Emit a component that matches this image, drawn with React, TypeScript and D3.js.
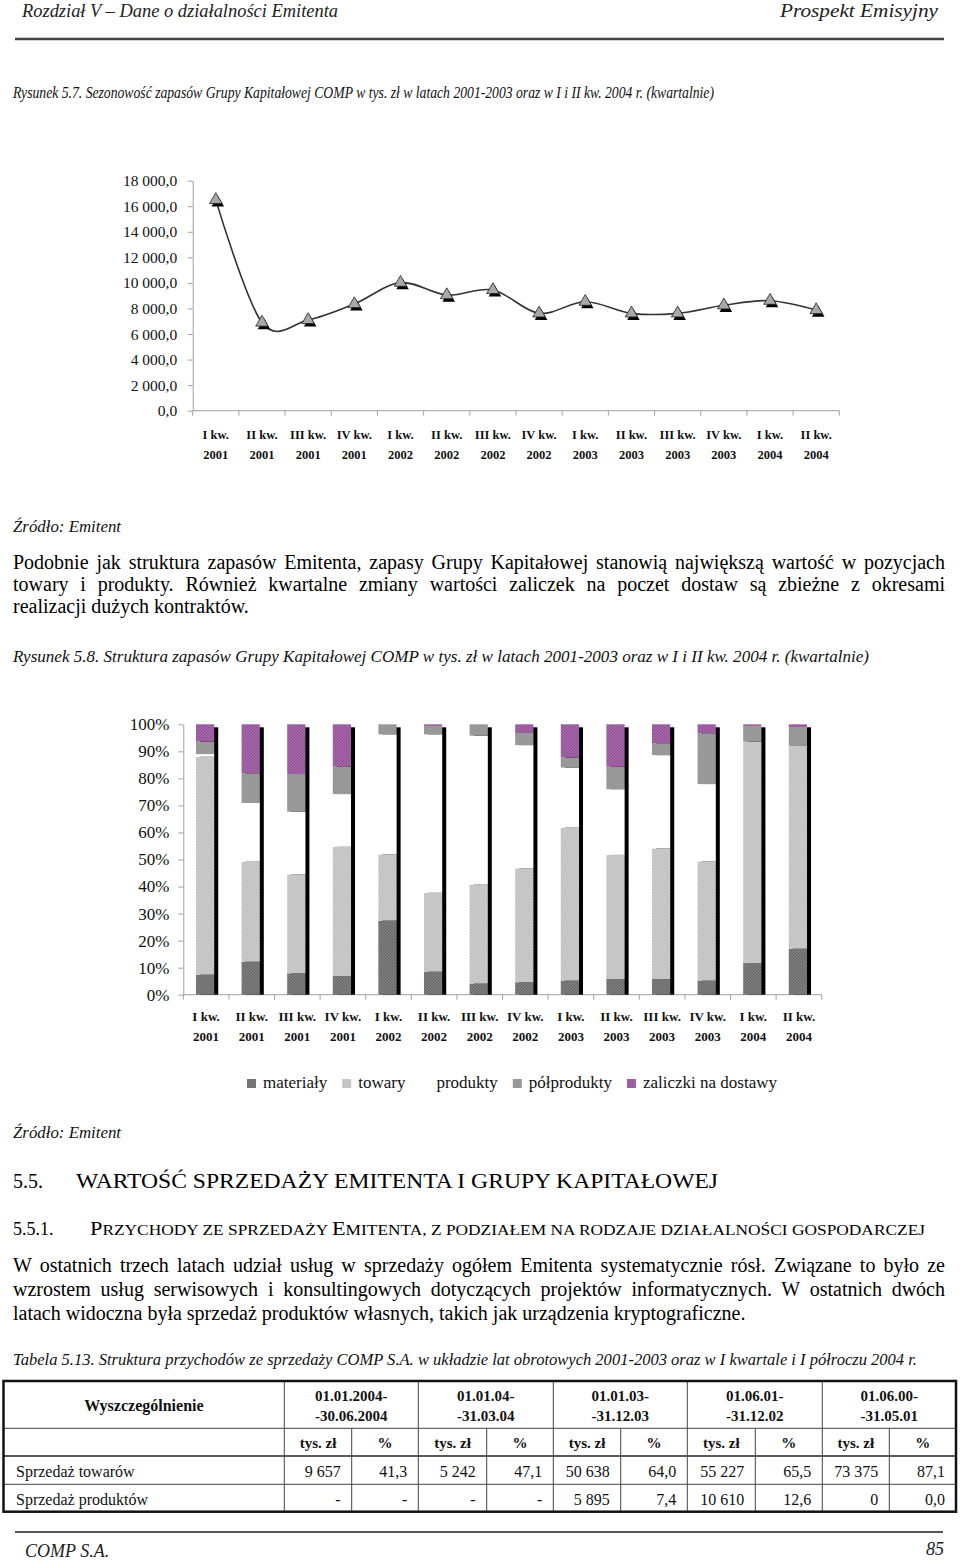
import React, { useEffect, useRef } from "react";
import * as d3 from "d3";

// ---------- DATA ----------
const quarterLabels = ["I kw.", "II kw.", "III kw.", "IV kw.", "I kw.", "II kw.", "III kw.", "IV kw.", "I kw.", "II kw.", "III kw.", "IV kw.", "I kw.", "II kw."];
const yearLabels = ["2001", "2001", "2001", "2001", "2002", "2002", "2002", "2002", "2003", "2003", "2003", "2003", "2004", "2004"];

// Rysunek 5.7 – zapasy, tys. zł
const inventoryValues = [16500, 6900, 7100, 8350, 10020, 9050, 9450, 7620, 8530, 7620, 7620, 8250, 8610, 7880];
const lineYTicks = [0, 2000, 4000, 6000, 8000, 10000, 12000, 14000, 16000, 18000];

// Rysunek 5.8 – struktura zapasów (%)
const seriesKeys = ["materialy", "towary", "produkty", "polprodukty", "zaliczki"];
const seriesNames = ["materiały", "towary", "produkty", "półprodukty", "zaliczki na dostawy"];
const materialy = [7.4, 12.2, 7.9, 6.9, 27.4, 8.5, 4.1, 4.6, 5.2, 5.8, 5.8, 5.2, 11.7, 17.0];
const towary = [80.6, 37.0, 36.6, 47.8, 24.5, 29.2, 36.6, 42.1, 56.6, 45.9, 48.3, 44.1, 81.9, 75.0];
const produkty = [1.0, 21.7, 23.2, 19.5, 44.4, 58.6, 55.1, 45.6, 22.2, 24.3, 34.5, 28.6, 0.0, 0.0];
const polprodukty = [4.6, 11.0, 13.9, 10.1, 3.7, 3.1, 4.2, 4.5, 3.7, 8.3, 4.4, 18.8, 5.8, 7.0];
const zaliczki = [6.4, 18.1, 18.4, 15.7, 0.0, 0.6, 0.0, 3.2, 12.3, 15.7, 7.0, 3.3, 0.6, 1.0];
const barYTicks = [0, 10, 20, 30, 40, 50, 60, 70, 80, 90, 100];

// Tabela 5.13
const tablePeriods = [["01.01.2004-", "-30.06.2004"], ["01.01.04-", "-31.03.04"], ["01.01.03-", "-31.12.03"], ["01.06.01-", "-31.12.02"], ["01.06.00-", "-31.05.01"]];
const tableUnits = ["tys. zł", "%"];
const tableRowLabels = ["Sprzedaż towarów", "Sprzedaż produktów"];
const rowTowary = ["9 657", "41,3", "5 242", "47,1", "50 638", "64,0", "55 227", "65,5", "73 375", "87,1"];
const rowProdukty = ["-", "-", "-", "-", "5 895", "7,4", "10 610", "12,6", "0", "0,0"];

const para1 = [
  "Podobnie jak struktura zapasów Emitenta, zapasy Grupy Kapitałowej stanowią największą wartość w pozycjach",
  "towary i produkty. Również kwartalne zmiany wartości zaliczek na poczet dostaw są zbieżne z okresami",
  "realizacji dużych kontraktów.",
];
const para2 = [
  "W ostatnich trzech latach udział usług w sprzedaży ogółem Emitenta systematycznie rósł. Związane to było ze",
  "wzrostem usług serwisowych i konsultingowych dotyczących projektów informatycznych. W ostatnich dwóch",
  "latach widoczna była sprzedaż produktów własnych, takich jak urządzenia kryptograficzne.",
];

const SERIF = "'Liberation Serif', 'Times New Roman', Times, serif";

export default function App() {
  const ref = useRef<SVGSVGElement | null>(null);

  useEffect(() => {
    const svg = d3.select(ref.current as SVGSVGElement);
    svg.selectAll("*").remove();
    svg.append("rect").attr("width", 960).attr("height", 1562).attr("fill", "#fff");

    const txt = (g: any, x: number, y: number, s: string, o: any = {}) => {
      const t = g.append("text").attr("x", x).attr("y", y).text(s)
        .attr("font-family", SERIF).attr("font-size", o.size ?? 16)
        .attr("fill", o.fill ?? "#111");
      if (o.italic) t.attr("font-style", "italic");
      if (o.bold) t.attr("font-weight", "bold");
      if (o.anchor) t.attr("text-anchor", o.anchor);
      if (o.width) t.attr("textLength", o.width).attr("lengthAdjust", "spacingAndGlyphs");
      return t;
    };
    const justify = (x: number, y: number, s: string, width: number, size: number) => {
      const t = txt(svg, x, y, s, { size, fill: "#000" });
      const w = (t.node() as SVGTextElement).getComputedTextLength();
      const n = (s.match(/ /g) || []).length;
      if (n > 0) t.attr("word-spacing", (width - w) / n);
    };

    // defs / patterns
    const defs = svg.append("defs");
    const mkPat = (id: string, base: string, line: string) => {
      const p = defs.append("pattern").attr("id", id).attr("patternUnits", "userSpaceOnUse").attr("width", 3).attr("height", 3);
      p.append("rect").attr("width", 3).attr("height", 3).attr("fill", base);
      p.append("path").attr("d", "M0,3 L3,0 M-1,1 L1,-1 M2,4 L4,2").attr("stroke", line).attr("stroke-width", 0.8);
    };
    mkPat("p-mat", "#7d7d7d", "#606060");
    mkPat("p-tow", "#cdcdcd", "#b4b4b4");
    mkPat("p-pol", "#9c9c9c", "#8e8e8e");
    mkPat("p-zal", "#a466a8", "#86468c");
    const fills: Record<string, string> = {
      materialy: "url(#p-mat)", towary: "url(#p-tow)", produkty: "#ffffff", polprodukty: "url(#p-pol)", zaliczki: "url(#p-zal)",
    };

    // ---------- page header ----------
    txt(svg, 22, 17, "Rozdział V – Dane o działalności Emitenta", { italic: true, size: 18, width: 316, fill: "#222" });
    txt(svg, 780, 17, "Prospekt Emisyjny", { italic: true, size: 18, width: 158, fill: "#222" });
    svg.append("line").attr("x1", 15).attr("x2", 944).attr("y1", 39).attr("y2", 39).attr("stroke", "#444").attr("stroke-width", 2.5);

    txt(svg, 13, 98, "Rysunek 5.7. Sezonowość zapasów Grupy Kapitałowej COMP w tys. zł w latach 2001-2003 oraz w I i II kw. 2004 r. (kwartalnie)", { italic: true, size: 16, width: 701 });

    // ---------- line chart ----------
    const idx = d3.range(quarterLabels.length);
    const x1 = d3.scaleBand<number>().domain(idx).range([192.7, 839.3]);
    const y1 = d3.scaleLinear().domain([0, 18000]).range([410.7, 180.7]);
    const loc = d3.formatLocale({ decimal: ",", thousands: "\u00a0", grouping: [3], currency: ["", ""] });
    const fmt = loc.format(",.1f");
    const gL = svg.append("g");
    const axL = gL.append("g").attr("transform", "translate(192.7,0)")
      .call(d3.axisLeft(y1).tickValues(lineYTicks).tickSize(5).tickSizeOuter(0).tickPadding(10.5).tickFormat((d: any) => fmt(d)));
    axL.select(".domain").attr("stroke", "#a0a0a0");
    axL.selectAll(".tick line").attr("stroke", "#a0a0a0");
    axL.selectAll("text").attr("font-family", SERIF).attr("font-size", 15.5).attr("fill", "#111");

    const bw1 = x1.bandwidth();
    gL.append("line").attr("x1", 192.7).attr("x2", 839.3).attr("y1", y1(0)).attr("y2", y1(0)).attr("stroke", "#a0a0a0");
    gL.selectAll(".xt").data(d3.range(quarterLabels.length + 1)).join("line")
      .attr("x1", (i: number) => 192.7 + i * bw1).attr("x2", (i: number) => 192.7 + i * bw1)
      .attr("y1", y1(0)).attr("y2", y1(0) + 5).attr("stroke", "#a0a0a0");
    idx.forEach((i) => {
      const cx = (x1(i) as number) + bw1 / 2;
      txt(gL, cx, 439, quarterLabels[i], { bold: true, size: 12.5, anchor: "middle" });
      txt(gL, cx, 459, yearLabels[i], { bold: true, size: 12.5, anchor: "middle" });
    });

    const line = d3.line<number>()
      .x((d, i) => (x1(i) as number) + bw1 / 2)
      .y((d) => y1(d))
      .curve(d3.curveCatmullRom.alpha(0));
    gL.append("path").attr("d", line(inventoryValues) as string).attr("fill", "none").attr("stroke", "#333").attr("stroke-width", 1.6);
    const tri = d3.symbol().type(d3.symbolTriangle).size(68)();
    inventoryValues.forEach((v, i) => {
      const cx = (x1(i) as number) + bw1 / 2;
      gL.append("path").attr("d", tri as string).attr("transform", `translate(${cx + 2},${y1(v) + 3})`).attr("fill", "#000");
      gL.append("path").attr("d", tri as string).attr("transform", `translate(${cx},${y1(v)})`)
        .attr("fill", "#a8a8a8").attr("stroke", "#222").attr("stroke-width", 0.8);
    });

    txt(svg, 13, 532, "Źródło: Emitent", { italic: true, size: 16.5, width: 108 });

    // ---------- paragraph 1 ----------
    justify(13, 569, para1[0], 932, 20);
    justify(13, 591, para1[1], 932, 20);
    txt(svg, 13, 613, para1[2], { size: 20, fill: "#000" });

    txt(svg, 13, 662, "Rysunek 5.8. Struktura zapasów Grupy Kapitałowej COMP w tys. zł w latach 2001-2003 oraz w I i II kw. 2004 r. (kwartalnie)", { italic: true, size: 16.5, width: 856 });

    // ---------- bar chart ----------
    const x2 = d3.scaleBand<number>().domain(idx).range([183.3, 821.7]);
    const y2 = d3.scaleLinear().domain([0, 100]).range([994.7, 724.3]);
    const gB = svg.append("g");
    const axB = gB.append("g").attr("transform", "translate(183.3,0)")
      .call(d3.axisLeft(y2).tickValues(barYTicks).tickSize(5).tickSizeOuter(0).tickPadding(9).tickFormat((d: any) => `${d}%`));
    axB.select(".domain").attr("stroke", "#a0a0a0");
    axB.selectAll(".tick line").attr("stroke", "#a0a0a0");
    axB.selectAll("text").attr("font-family", SERIF).attr("font-size", 17).attr("fill", "#111");

    const bw2 = x2.bandwidth();
    gB.append("line").attr("x1", 183.3).attr("x2", 821.7).attr("y1", y2(0)).attr("y2", y2(0)).attr("stroke", "#a0a0a0");
    gB.selectAll(".xt").data(d3.range(quarterLabels.length + 1)).join("line")
      .attr("x1", (i: number) => 183.3 + i * bw2).attr("x2", (i: number) => 183.3 + i * bw2)
      .attr("y1", y2(0)).attr("y2", y2(0) + 5).attr("stroke", "#a0a0a0");

    const rows = idx.map((i) => ({ materialy: materialy[i], towary: towary[i], produkty: produkty[i], polprodukty: polprodukty[i], zaliczki: zaliczki[i] }));
    const stack = d3.stack<any>().keys(seriesKeys)(rows);
    const barW = bw2 * 0.4;
    const bx = (i: number) => (x2(i) as number) + bw2 * 0.278;
    // shadows
    idx.forEach((i) => {
      gB.append("rect").attr("x", bx(i) + 4).attr("y", y2(100) + 3).attr("width", barW)
        .attr("height", y2(0) - y2(100) - 3).attr("fill", "#000");
    });
    stack.forEach((s) => {
      gB.append("g").selectAll("rect").data(s).join("rect")
        .attr("x", (d: any, i: number) => bx(i))
        .attr("y", (d: any) => y2(d[1]))
        .attr("width", barW)
        .attr("height", (d: any) => Math.max(0, y2(d[0]) - y2(d[1])))
        .attr("fill", fills[s.key]);
    });
    idx.forEach((i) => {
      const cx = (x2(i) as number) + bw2 / 2;
      txt(gB, cx, 1021, quarterLabels[i], { bold: true, size: 13, anchor: "middle" });
      txt(gB, cx, 1041, yearLabels[i], { bold: true, size: 13, anchor: "middle" });
    });

    // legend
    let lx = 247;
    seriesKeys.forEach((k, i) => {
      svg.append("rect").attr("x", lx).attr("y", 1079).attr("width", 9).attr("height", 9).attr("fill", fills[k]);
      const t = txt(svg, lx + 16, 1088, seriesNames[i], { size: 17 });
      const w = (t.node() as SVGTextElement).getComputedTextLength();
      lx += 16 + w + 15;
    });

    txt(svg, 13, 1138, "Źródło: Emitent", { italic: true, size: 16.5, width: 108 });

    // ---------- section headings ----------
    txt(svg, 13, 1188, "5.5.", { size: 20, fill: "#000" });
    txt(svg, 76, 1188, "WARTOŚĆ SPRZEDAŻY EMITENTA I GRUPY KAPITAŁOWEJ", { size: 20, width: 642, fill: "#000" });
    txt(svg, 13, 1235, "5.5.1.", { size: 18, fill: "#000" });
    const h = svg.append("text").attr("x", 90).attr("y", 1235).attr("font-family", SERIF).attr("fill", "#000")
      .attr("textLength", 835).attr("lengthAdjust", "spacingAndGlyphs");
    h.append("tspan").attr("font-size", 18).text("P");
    h.append("tspan").attr("font-size", 14).text("RZYCHODY ZE SPRZEDAŻY ");
    h.append("tspan").attr("font-size", 18).text("E");
    h.append("tspan").attr("font-size", 14).text("MITENTA, Z PODZIAŁEM NA RODZAJE DZIAŁALNOŚCI GOSPODARCZEJ");

    justify(13, 1272, para2[0], 932, 20);
    justify(13, 1296, para2[1], 932, 20);
    txt(svg, 13, 1320, para2[2], { size: 20, fill: "#000" });

    txt(svg, 13, 1365, "Tabela 5.13. Struktura przychodów ze sprzedaży COMP S.A. w układzie lat obrotowych 2001-2003 oraz w I kwartale i I półroczu 2004 r.", { italic: true, size: 16, width: 904 });

    // ---------- table ----------
    const colX = [3.5, 284.3, 351.7, 418.3, 486.7, 553.3, 620.7, 687.3, 755.3, 822.3, 889.3, 956];
    const rowY = [1381, 1428.3, 1456, 1484.3, 1511.7];
    const gT = svg.append("g");
    [rowY[1], rowY[3]].forEach((yy) => gT.append("line").attr("x1", colX[0]).attr("x2", colX[11]).attr("y1", yy).attr("y2", yy).attr("stroke", "#444").attr("stroke-width", 1));
    gT.append("line").attr("x1", colX[0]).attr("x2", colX[11]).attr("y1", rowY[2]).attr("y2", rowY[2]).attr("stroke", "#222").attr("stroke-width", 1.6);
    colX.slice(1, 11).forEach((xx, j) => {
      const full = j % 2 === 0;
      gT.append("line").attr("x1", xx).attr("x2", xx).attr("y1", full ? rowY[0] : rowY[1]).attr("y2", rowY[4]).attr("stroke", "#444").attr("stroke-width", 1);
    });
    gT.append("rect").attr("x", colX[0]).attr("y", rowY[0]).attr("width", colX[11] - colX[0]).attr("height", rowY[4] - rowY[0])
      .attr("fill", "none").attr("stroke", "#111").attr("stroke-width", 2.5);

    txt(gT, (colX[0] + colX[1]) / 2, 1411, "Wyszczególnienie", { bold: true, size: 16, anchor: "middle" });
    tablePeriods.forEach((p, g) => {
      const cx = (colX[1 + 2 * g] + colX[3 + 2 * g]) / 2;
      txt(gT, cx, 1401, p[0], { bold: true, size: 15, anchor: "middle" });
      txt(gT, cx, 1421, p[1], { bold: true, size: 15, anchor: "middle" });
      tableUnits.forEach((u, k) => {
        const c0 = colX[1 + 2 * g + k], c1 = colX[2 + 2 * g + k];
        txt(gT, (c0 + c1) / 2, 1448, u, { bold: true, size: 15, anchor: "middle" });
      });
    });
    [rowTowary, rowProdukty].forEach((vals, r) => {
      const yy = r === 0 ? 1477 : 1505;
      txt(gT, 16, yy, tableRowLabels[r], { size: 16 });
      vals.forEach((v, c) => txt(gT, colX[c + 2] - 11, yy, v, { size: 16, anchor: "end" }));
    });

    // ---------- footer ----------
    svg.append("line").attr("x1", 15).attr("x2", 943).attr("y1", 1532).attr("y2", 1532).attr("stroke", "#555").attr("stroke-width", 2);
    txt(svg, 25, 1557, "COMP S.A.", { italic: true, size: 18, fill: "#222" });
    txt(svg, 944, 1555, "85", { italic: true, size: 18, anchor: "end", fill: "#222" });
  }, []);

  return (
    <svg ref={ref} width={960} height={1562} style={{ position: "absolute", left: 0, top: 0, display: "block" }} />
  );
}
